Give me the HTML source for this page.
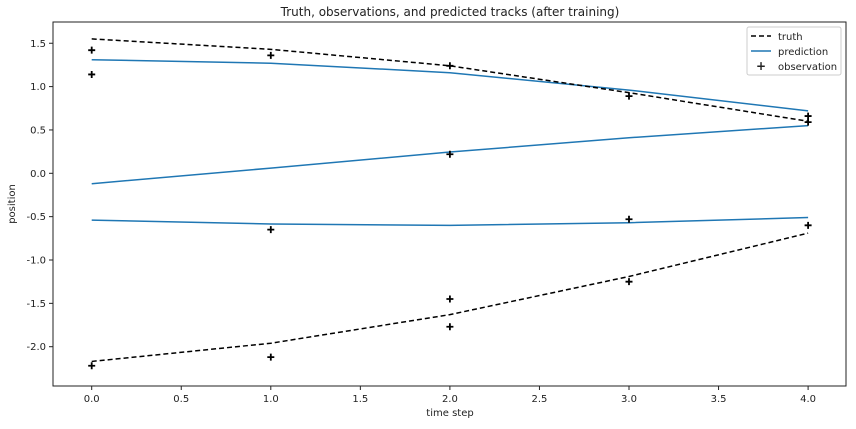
<!DOCTYPE html>
<html><head><meta charset="utf-8"><style>
body{margin:0;background:#fff;font-family:"Liberation Sans","DejaVu Sans",sans-serif}
svg text{font-family:"DejaVu Sans","Liberation Sans",sans-serif;fill:#222}
</style></head><body>
<svg id="chart" width="856" height="424" viewBox="0 0 856 424" xmlns="http://www.w3.org/2000/svg">
<text x="450" y="16" text-anchor="middle" font-size="12">Truth, observations, and predicted tracks (after training)</text>
<rect x="53" y="22" width="793" height="364" fill="none" stroke="#222" stroke-width="1"/>
<g id="xticks"></g>
<g id="yticks"></g>
<text x="450" y="416" text-anchor="middle" font-size="10">time step</text>
<text x="15" y="204" text-anchor="middle" font-size="10" transform="rotate(-90 15 204)">position</text>
<g id="series"></g>
<g>
<rect x="747" y="27" width="94" height="48" fill="#fff" stroke="#ccc" rx="2"/>
<line x1="751" y1="36" x2="771" y2="36" stroke="#000" stroke-width="1.5" stroke-dasharray="5,3"/>
<text x="778" y="40" font-size="10">truth</text>
<line x1="751" y1="51" x2="771" y2="51" stroke="#1f77b4" stroke-width="1.5"/>
<text x="778" y="55" font-size="10">prediction</text>
<text x="761" y="70" font-size="12" font-weight="bold" text-anchor="middle">+</text>
<text x="778" y="70" font-size="10">observation</text>
</g>
</svg>
<script>
const steps=[0,1,2,3,4];
const truth1=[1.55,1.43,1.24,0.93,0.60];
const truth2=[-2.17,-1.96,-1.63,-1.19,-0.69];
const pred1=[1.31,1.27,1.16,0.96,0.72];
const pred2=[-0.12,0.06,0.245,0.41,0.55];
const pred3=[-0.54,-0.585,-0.60,-0.57,-0.51];
const obsX=[0,0,1,2,3,4,4,0,1,1,2,2,2,3,3,4];
const obsY=[1.42,1.14,1.36,1.24,0.89,0.66,0.59,-2.22,-2.12,-0.65,0.22,-1.45,-1.77,-0.53,-1.25,-0.60];
const xTicks=[0,0.5,1,1.5,2,2.5,3,3.5,4];
const yTicks=[1.5,1.0,0.5,0.0,-0.5,-1.0,-1.5,-2.0];
const NS="http://www.w3.org/2000/svg";
const xs=v=>91.7+v*179.1;
const ys=v=>173.3-v*86.7;
function mk(t,a,p){const e=document.createElementNS(NS,t);for(const k in a)e.setAttribute(k,a[k]);p.appendChild(e);return e;}
const xg=document.getElementById('xticks'),yg=document.getElementById('yticks'),sg=document.getElementById('series');
xTicks.forEach(v=>{
 const l=mk('line',{x1:xs(v),x2:xs(v),y1:386,y2:390,stroke:'#222'},xg);
 
 
 const t=mk('text',{x:xs(v),y:402,'text-anchor':'middle','font-size':10},xg);
 t.textContent=v.toFixed(1);
 
 
});
yTicks.forEach(v=>{
 const l=mk('line',{x1:49,x2:53,y1:ys(v),y2:ys(v),stroke:'#222'},yg);
 
 
 const t=mk('text',{x:46,y:ys(v)+3.5,'text-anchor':'end','font-size':10},yg);
 t.textContent=v.toFixed(1);
 
 
});
function line(arr,color,dash,name){
 const pts=steps.map((s,i)=>xs(s)+','+ys(arr[i])).join(' ');
 const a={points:pts,fill:'none',stroke:color,'stroke-width':1.5};
 if(dash)a['stroke-dasharray']=dash;
 const p=mk('polyline',a,sg);
 
 
}
line(pred1,'#1f77b4',null,'prediction-track-1');
line(pred2,'#1f77b4',null,'prediction-track-2');
line(pred3,'#1f77b4',null,'prediction-track-3');
line(truth1,'#000','5,3','truth-track-1');
line(truth2,'#000','5,3','truth-track-2');
obsX.forEach((x,i)=>{
 const cx=xs(x),cy=ys(obsY[i]);
 const p=mk('path',{d:`M${cx-3.5},${cy}H${cx+3.5}M${cx},${cy-3.5}V${cy+3.5}`,stroke:'#000','stroke-width':1.8},sg);
 
 
});
</script>
</body></html>
